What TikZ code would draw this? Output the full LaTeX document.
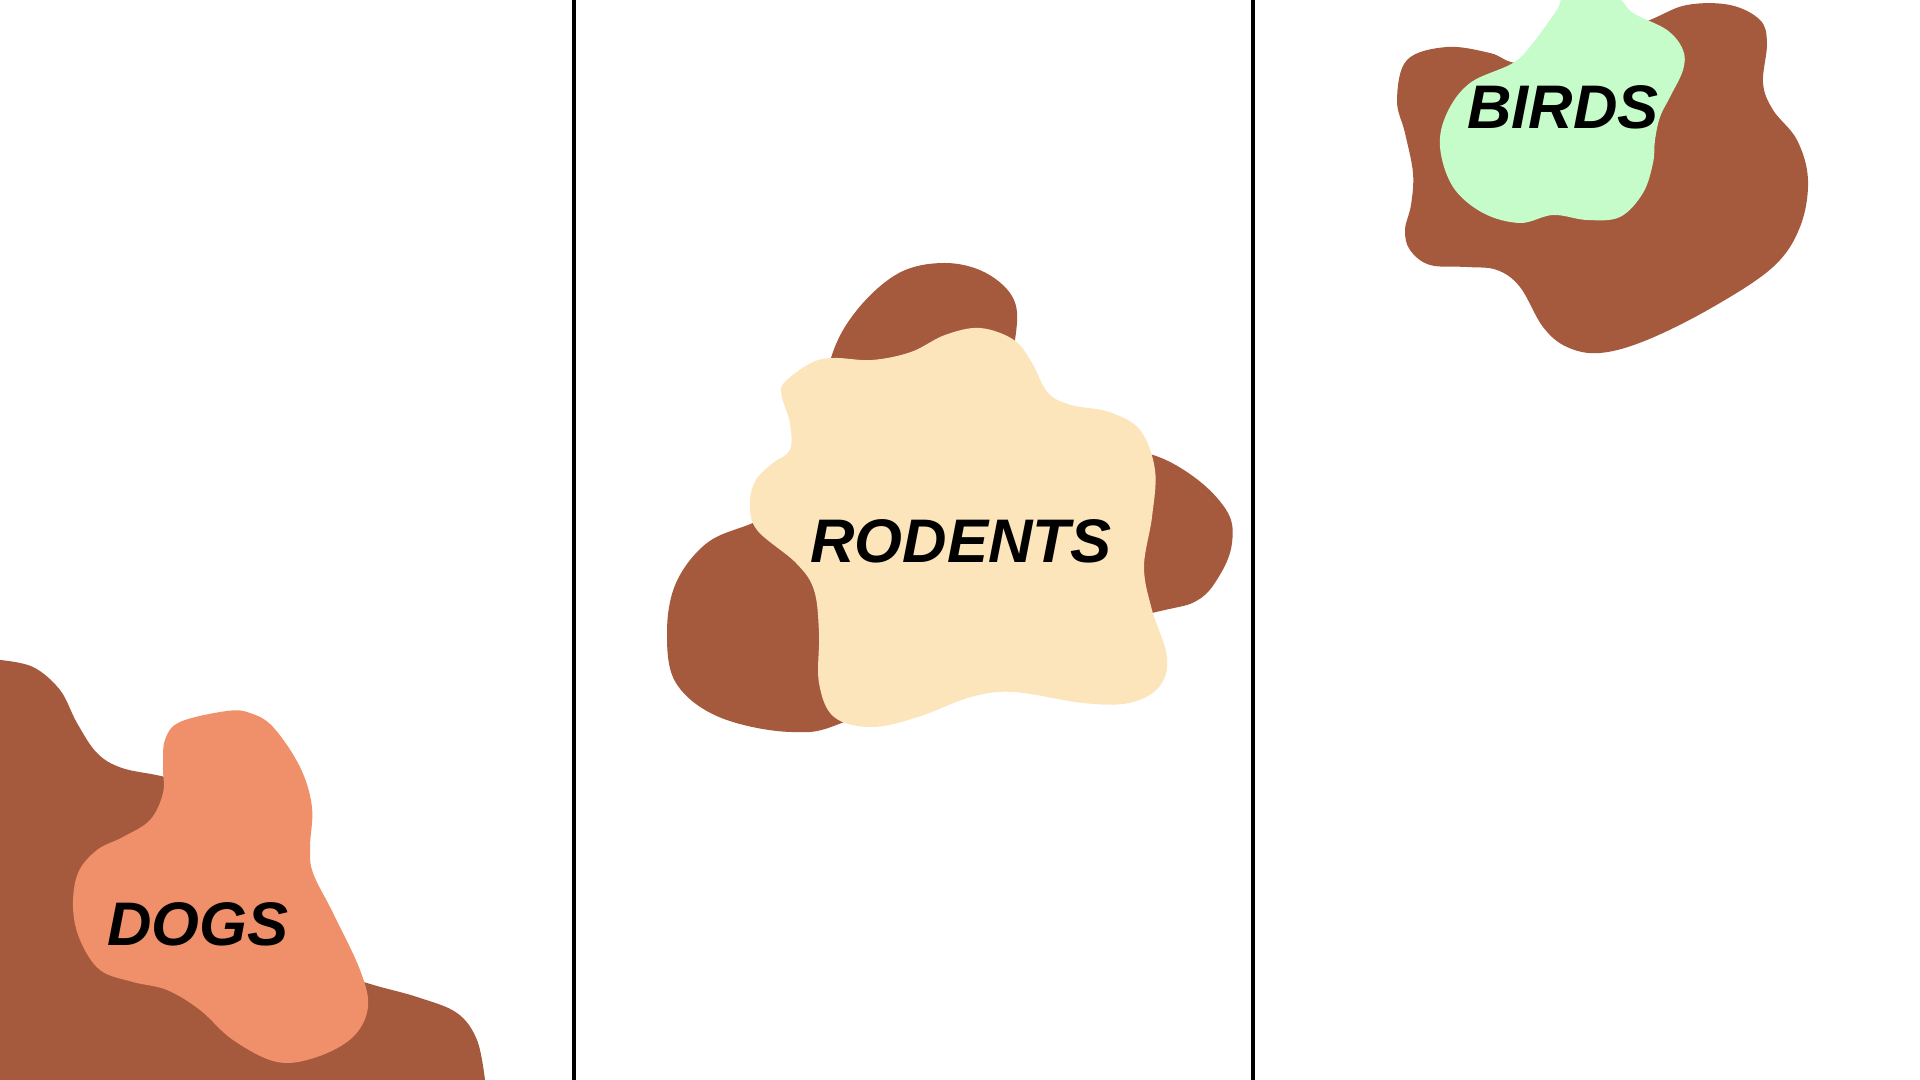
\documentclass[tikz,border=0pt]{standalone}
\usepackage{fontspec}
\setmainfont{Liberation Sans}
\definecolor{blobbrown}{RGB}{165,89,61}
\definecolor{blobpeach}{RGB}{240,144,106}
\definecolor{blobcream}{RGB}{252,228,187}
\definecolor{blobgreen}{RGB}{198,252,202}
\tikzset{
  blob/.style={fill=#1, draw=none},
  label/.style={font=\fontsize{17.5}{20}\selectfont\bfseries\itshape, text=black, inner sep=0pt},
  divider/.style={line width=0.9pt, draw=black}
}
\begin{document}
\begin{tikzpicture}[x=0.01cm, y=-0.01cm]
\useasboundingbox[fill=white] (0,0) rectangle (1920,1080);
\begin{scope}
\clip (0,0) rectangle (1920,1080);
% Dogs
\fill[blob=blobbrown] (0,660) -- plot[smooth, tension=0.6] coordinates {(0,660) (33,667) (60,690) (77,723) (97,753) (122,768) (165,777) (230,795) (300,960) (367,983) (417,997) (457,1013) (477,1040) (485,1080)} -- (0,1080) -- cycle;
\fill[blob=blobpeach] plot[smooth cycle, tension=0.6] coordinates {(227,711) (180,722) (165,740) (163,767) (163,793) (150,820) (123,837) (97,850) (78,873) (73,907) (80,940) (100,970) (133,982) (167,990) (200,1010) (233,1040) (277,1062) (317,1057) (353,1037) (368,1007) (360,970) (333,913) (313,873) (310,847) (312,807) (300,767) (273,727) (250,713)};
% Rodents
\fill[blob=blobbrown] plot[smooth cycle, tension=0.6] coordinates {(831,358) (857,310) (899,273) (945,263) (986,273) (1014,300) (1015,340) (1000,400) (1100,450) (1153,455) (1198,480) (1228,513) (1232,543) (1221,573) (1198,600) (1152,613) (990,650) (849,720) (791,732) (719,717) (676,683) (667,633) (676,583) (707,543) (753,523) (810,500) (820,430)};
\fill[blob=blobcream] plot[smooth cycle, tension=0.6] coordinates {(784,383) (811,363) (834,358) (872,360) (911,352) (945,335) (980,328) (1014,340) (1032,363) (1048,393) (1071,405) (1109,412) (1140,430) (1155,470) (1152,517) (1144,567) (1152,610) (1167,657) (1159,687) (1129,703) (1083,703) (1014,692) (971,697) (918,717) (872,727) (834,717) (819,683) (819,633) (814,590) (796,563) (757,530) (750,503) (756,480) (773,463) (790,450) (790,423) (782,397)};
% Birds
\fill[blob=blobbrown] plot[smooth cycle, tension=0.6] coordinates {(1397,100) (1407,60) (1447,47) (1490,53) (1520,63) (1580,50) (1650,20) (1687,5) (1730,5) (1760,20) (1767,43) (1763,83) (1773,110) (1797,140) (1808,180) (1800,227) (1773,267) (1713,307) (1647,340) (1600,353) (1567,347) (1543,327) (1520,287) (1497,270) (1467,267) (1430,265) (1410,250) (1405,230) (1411,205) (1413,173) (1405,133)};
\fill[blob=blobgreen] plot[smooth cycle, tension=0.6] coordinates {(1567,-5) (1613,-5) (1633,13) (1667,30) (1683,50) (1683,70) (1670,97) (1660,117) (1655,140) (1653,163) (1643,193) (1620,217) (1587,220) (1553,215) (1520,223) (1483,213) (1453,187) (1440,147) (1447,113) (1470,83) (1513,63) (1533,43) (1557,10)};
\end{scope}
% Dividers
\coordinate (d1top) at (574,0);
\coordinate (d1bot) at (574,1080);
\coordinate (d2top) at (1253,0);
\coordinate (d2bot) at (1253,1080);
\draw[divider] (d1top) -- (d1bot);
\draw[divider] (d2top) -- (d2bot);
% Labels
\node[label] (dogs) at (198,924) {DOGS};
\node[label] (rodents) at (961,541) {RODENTS};
\node[label] (birds) at (1563,107) {BIRDS};
\end{tikzpicture}
\end{document}
